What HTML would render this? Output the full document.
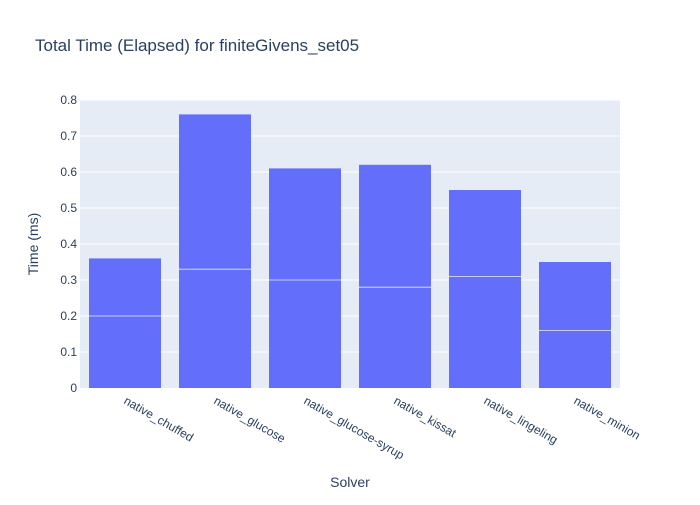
<!DOCTYPE html>
<html><head><meta charset="utf-8"><style>
body{margin:0;background:#fff;}
svg text{font-family:"Liberation Sans","Open Sans",sans-serif;}
</style></head><body>
<svg id="chart" width="700" height="500" xmlns="http://www.w3.org/2000/svg">
<rect width="700" height="500" fill="#fff"/>
<text x="35" y="51" font-size="17" fill="#2a3f5f">Total Time (Elapsed) for finiteGivens_set05</text>
<rect x="80" y="100" width="540" height="288" fill="#e5ecf6"/>
<g id="grid"></g><g id="bars"></g><g id="ticks"></g>
<text x="38" y="244" font-size="14" fill="#2a3f5f" text-anchor="middle" transform="rotate(-90 38 244)">Time (ms)</text>
<text x="350" y="487" font-size="14" fill="#2a3f5f" text-anchor="middle">Solver</text>
</svg>
<script>
const categories=["native_chuffed","native_glucose","native_glucose-syrup","native_kissat","native_lingeling","native_minion"];
const bottomValues=[0.2,0.33,0.3,0.28,0.31,0.16];
const topValues=[0.16,0.43,0.31,0.34,0.24,0.19];
const yTicks=[0,0.1,0.2,0.3,0.4,0.5,0.6,0.7,0.8];
const NS="http://www.w3.org/2000/svg";
const x0=80,x1=620,y0=388,y1=100,ymax=0.8;
const y=v=>y0-(v/ymax)*(y0-y1);
const band=(x1-x0)/categories.length;
const xc=i=>x0+band*(i+0.5);
function mk(tag,attrs,parent){const e=document.createElementNS(NS,tag);for(const k in attrs)e.setAttribute(k,attrs[k]);parent.appendChild(e);return e;}
const grid=document.getElementById('grid'),bars=document.getElementById('bars'),ticks=document.getElementById('ticks');
yTicks.forEach(t=>{
 if(t>0){const l=mk('line',{x1:x0,x2:x1,y1:y(t),y2:y(t),stroke:'#fff','stroke-width':1},grid);
 
 }
 const tx=mk('text',{x:x0-3,y:y(t)+4,'font-size':12,fill:'#2a3f5f','text-anchor':'end'},ticks);
 tx.textContent=String(t);
 
 
});
const bw=band*0.8;
categories.forEach((c,i)=>{
 const b=bottomValues[i],t=topValues[i];
 const r1=mk('rect',{x:xc(i)-bw/2,y:y(b),width:bw,height:y0-y(b),fill:'#636efa'},bars);
 
 
 const r2=mk('rect',{x:xc(i)-bw/2,y:y(b+t),width:bw,height:y(b)-y(b+t),fill:'#636efa'},bars);
 
 
 mk('line',{x1:xc(i)-bw/2,x2:xc(i)+bw/2,y1:y(b),y2:y(b),stroke:'#e5ecf6','stroke-width':0.8},bars);
 const lx=xc(i)-2,ly=y0+15;
 const tx=mk('text',{x:lx,y:ly,'font-size':12,fill:'#2a3f5f',transform:`rotate(30 ${lx} ${ly})`},ticks);
 tx.textContent=c;
 
 
});
</script>
</body></html>
